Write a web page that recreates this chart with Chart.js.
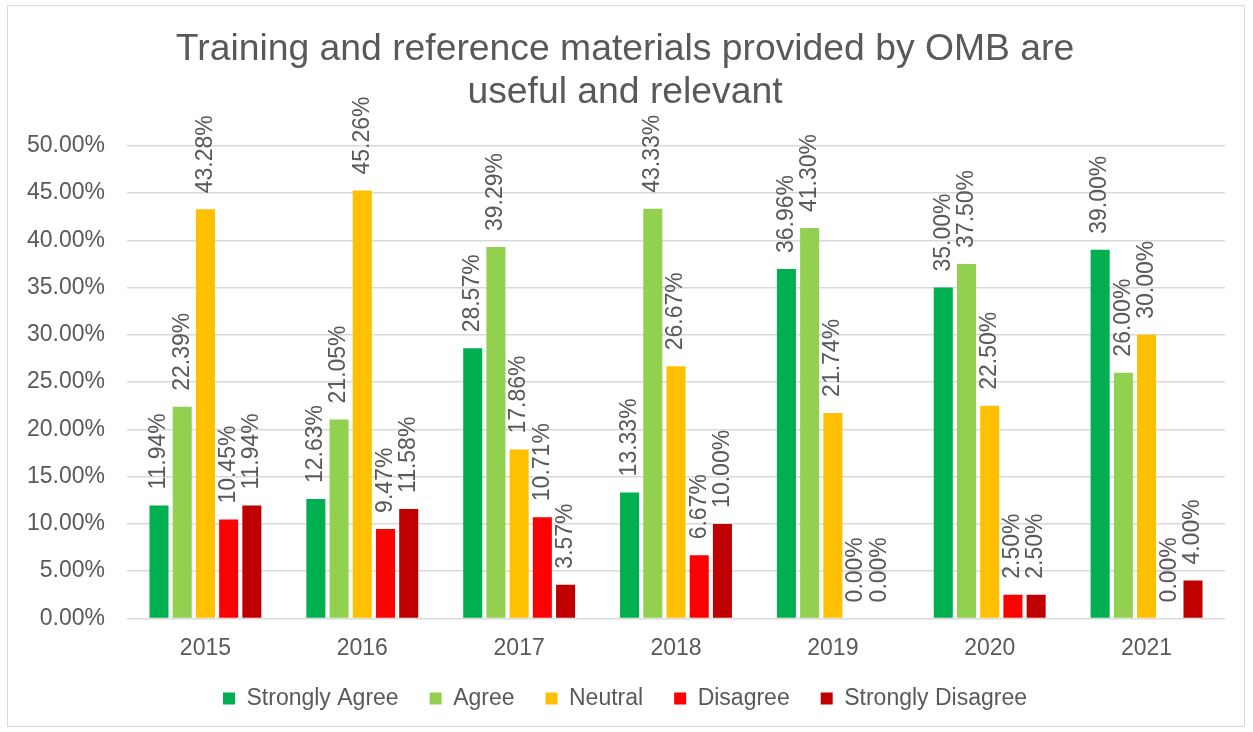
<!DOCTYPE html>
<html>
<head>
<meta charset="utf-8">
<script src="https://cdn.jsdelivr.net/npm/chart.js@4"></script>
<style>
  html, body { margin: 0; padding: 0; background: #fff; }
  #wrap {
    position: absolute; left: 7px; top: 5px;
    width: 1238px; height: 722px;
    box-sizing: border-box; border: 1px solid #d9d9d9;
  }
</style>
</head>
<body>
<div id="wrap"><canvas id="chart"></canvas></div>
<script>
const years = ["2015", "2016", "2017", "2018", "2019", "2020", "2021"];
const stronglyAgree = [11.94, 12.63, 28.57, 13.33, 36.96, 35.00, 39.00];
const agree = [22.39, 21.05, 39.29, 43.33, 41.30, 37.50, 26.00];
const neutral = [43.28, 45.26, 17.86, 26.67, 21.74, 22.50, 30.00];
const disagree = [10.45, 9.47, 10.71, 6.67, 0.00, 2.50, 0.00];
const stronglyDisagree = [11.94, 11.58, 3.57, 10.00, 0.00, 2.50, 4.00];

const FONT = "'Liberation Sans', Arial, sans-serif";
const TEXT = "#595959";

// value labels, rotated, above each bar
const barLabels = {
  id: "barLabels",
  afterDatasetsDraw(chart) {
    const ctx = chart.ctx;
    ctx.save();
    ctx.font = `23px ${FONT}`;
    ctx.fillStyle = TEXT;
    ctx.textAlign = "left";
    ctx.textBaseline = "middle";
    chart.data.datasets.forEach((ds, i) => {
      chart.getDatasetMeta(i).data.forEach((bar, j) => {
        ctx.save();
        ctx.translate(bar.x, bar.y - 16);
        ctx.rotate(-Math.PI / 2);
        ctx.fillText(ds.data[j].toFixed(2) + "%", 0, 0);
        ctx.restore();
      });
    });
    ctx.restore();
  }
};

const makeSet = (label, data, color) => ({
  label, data,
  backgroundColor: color,
  categoryPercentage: 0.74,
  barPercentage: 0.82
});

new Chart(document.getElementById("chart"), {
  type: "bar",
  data: {
    labels: years,
    datasets: [
      makeSet("Strongly Agree", stronglyAgree, "#00b050"),
      makeSet("Agree", agree, "#92d050"),
      makeSet("Neutral", neutral, "#ffc000"),
      makeSet("Disagree", disagree, "#ff0000"),
      makeSet("Strongly Disagree", stronglyDisagree, "#c00000")
    ]
  },
  options: {
    responsive: true,
    maintainAspectRatio: false,
    animation: false,
    layout: { padding: { top: 22, right: 19, bottom: 6, left: 17 } },
    plugins: {
      title: {
        display: true,
        text: ["Training and reference materials provided by OMB are", "useful and relevant"],
        color: TEXT,
        font: { family: FONT, size: 37.3, weight: "normal", lineHeight: 1.15 },
        padding: { top: 0, bottom: 32 }
      },
      legend: {
        position: "bottom",
        labels: {
          color: TEXT,
          font: { family: FONT, size: 23 },
          boxWidth: 12,
          boxHeight: 12,
          padding: 31
        }
      },
      tooltip: { enabled: false }
    },
    scales: {
      x: {
        grid: { display: false },
        border: { display: false },
        ticks: { color: TEXT, font: { family: FONT, size: 23 }, padding: 8 },
        afterFit: (scale) => { scale.height -= 14; }
      },
      y: {
        min: 0,
        max: 50,
        ticks: {
          stepSize: 5,
          color: TEXT,
          font: { family: FONT, size: 23 },
          padding: 22,
          callback: (v) => v.toFixed(2) + "%"
        },
        grid: { color: "#d9d9d9", lineWidth: 1.5, drawTicks: false },
        border: { display: false },
        afterFit: (scale) => { scale.width = 102; }
      }
    }
  },
  plugins: [barLabels]
});
</script>
</body>
</html>
